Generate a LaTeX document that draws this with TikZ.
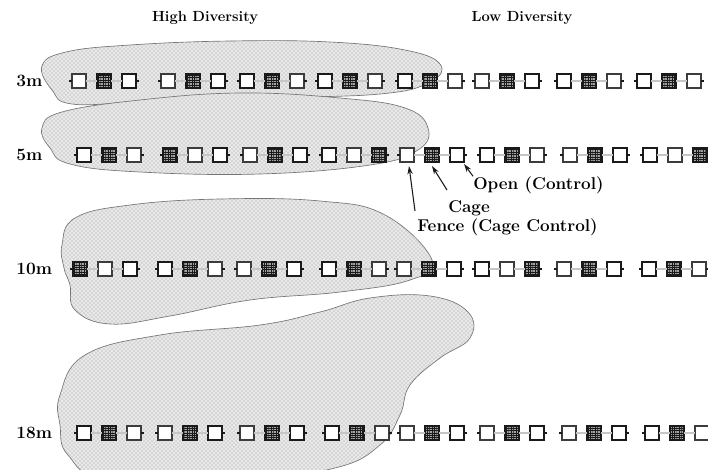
\documentclass[tikz,border=0pt]{standalone}
\usepackage{xcolor}
\usepackage{tikz}
\usetikzlibrary{
  arrows.meta,
  positioning,
  patterns,
  calc
}
\definecolor{divInk}{HTML}{1A1A1A}
\definecolor{divStipple}{HTML}{9A9A9A}
\pgfdeclarepatternformonly{cagegrid}{\pgfqpoint{-0.2pt}{-0.2pt}}{\pgfqpoint{2pt}{2pt}}{\pgfqpoint{1.8pt}{1.8pt}}{
  \pgfsetlinewidth{0.5pt}
  \pgfpathmoveto{\pgfqpoint{0pt}{0pt}}\pgfpathlineto{\pgfqpoint{1.8pt}{0pt}}
  \pgfpathmoveto{\pgfqpoint{0pt}{0pt}}\pgfpathlineto{\pgfqpoint{0pt}{1.8pt}}
  \pgfusepath{stroke}
}
\tikzset{
  divplot/.style={draw=divInk, minimum size=10.5pt, inner sep=0pt, outer sep=0pt},
  plotO/.style={divplot, fill=white, line width=0.9pt},
  plotC/.style={divplot, line width=0.8pt, preaction={fill=divInk!40}, pattern=cagegrid, pattern color=divInk},
  plotF/.style={divplot, fill=white, line width=2.2pt, draw=divInk!85},
  tether/.style={draw=divInk!80, double=divInk!25, double distance=1.2pt, line width=0.5pt},
  stub/.style={draw=divInk, line width=0.9pt},
  reefpatch/.style={
    draw=divInk!60, line width=0.5pt,
    preaction={fill=divStipple!22}, pattern=crosshatch dots, pattern color=divInk!45
  },
  depthlabel/.style={font=\fontsize{13}{15}\selectfont\bfseries, anchor=west, inner sep=0pt},
  colhead/.style={font=\fontsize{11}{13}\selectfont\bfseries},
  calltext/.style={font=\fontsize{12.8}{15}\selectfont\bfseries, inner sep=0pt},
  pointer/.style={-{Stealth[length=2.2mm, width=1.4mm]}, line width=0.8pt, divInk}
}
% one block of three plots: open, cage, fence in some order
\newcommand{\plottriplet}[7]{%
  \node[#5] (#1-#2-1) at (#3,#4) {};
  \node[#6] (#1-#2-2) at (#3+25,#4) {};
  \node[#7] (#1-#2-3) at (#3+50,#4) {};
  \draw[tether] (#1-#2-1) -- (#1-#2-2);
  \draw[tether] (#1-#2-2) -- (#1-#2-3);
  \draw[stub] (#1-#2-1.west) -- ++(-3,0);
  \draw[stub] (#1-#2-3.east) -- ++(3,0);
}

\begin{document}
\begin{tikzpicture}[x=0.75pt, y=-0.75pt]
  \useasboundingbox (0,0) rectangle (708,469);
  \clip (0,0) rectangle (708,469);

  % reef patches
  \draw[reefpatch] plot[smooth cycle, tension=0.7] coordinates {
    (42,66) (66,52) (130,45) (230,41) (330,42) (405,50) (440,64) (430,82)
    (380,94) (260,98) (140,102) (72,104) (52,90)};
  \draw[reefpatch] plot[smooth cycle, tension=0.7] coordinates {
    (42,128) (62,112) (140,100) (240,93) (340,98) (405,108) (428,128)
    (418,150) (370,165) (260,174) (140,172) (70,164) (50,148)};
  \draw[reefpatch] plot[smooth cycle, tension=0.7] coordinates {
    (62,245) (75,218) (130,205) (220,199) (320,201) (385,215) (432,260)
    (410,280) (340,292) (250,300) (170,316) (110,324) (75,310) (70,285) (64,268)};
  \draw[reefpatch] plot[smooth cycle, tension=0.7] coordinates {
    (60,395) (85,355) (160,335) (260,325) (320,312) (370,298) (430,296)
    (468,312) (470,338) (440,358) (410,385) (400,415) (380,445) (335,468)
    (240,480) (110,480) (68,455) (60,425)};

  \node[colhead] (hd-high) at (205,18) {High Diversity};
  \node[colhead] (hd-low) at (522,18) {Low Diversity};

  \node[depthlabel] (d3) at (16,81) {3m};
  \node[depthlabel] (d5) at (16,155) {5m};
  \node[depthlabel] (d10) at (16,269) {10m};
  \node[depthlabel] (d18) at (16,433) {18m};

  % 3m
  \plottriplet{m3}{1}{79}{81}{plotF}{plotC}{plotO}
  \plottriplet{m3}{2}{168}{81}{plotF}{plotC}{plotO}
  \plottriplet{m3}{3}{247}{81}{plotO}{plotC}{plotF}
  \plottriplet{m3}{4}{325}{81}{plotO}{plotC}{plotF}
  \plottriplet{m3}{5}{405}{81}{plotO}{plotC}{plotF}
  \plottriplet{m3}{6}{482}{81}{plotF}{plotC}{plotO}
  \plottriplet{m3}{7}{564}{81}{plotO}{plotC}{plotF}
  \plottriplet{m3}{8}{644}{81}{plotO}{plotC}{plotF}
  % 5m
  \plottriplet{m5}{1}{84}{155}{plotO}{plotC}{plotF}
  \plottriplet{m5}{2}{170}{155}{plotC}{plotF}{plotO}
  \plottriplet{m5}{3}{250}{155}{plotF}{plotC}{plotO}
  \plottriplet{m5}{4}{329}{155}{plotO}{plotF}{plotC}
  \plottriplet{m5}{5}{407}{155}{plotF}{plotC}{plotO}
  \plottriplet{m5}{6}{487}{155}{plotO}{plotC}{plotF}
  \plottriplet{m5}{7}{570}{155}{plotF}{plotC}{plotO}
  \plottriplet{m5}{8}{650}{155}{plotO}{plotF}{plotC}
  % 10m
  \plottriplet{m10}{1}{80}{269}{plotC}{plotF}{plotO}
  \plottriplet{m10}{2}{165}{269}{plotO}{plotC}{plotF}
  \plottriplet{m10}{3}{244}{269}{plotF}{plotC}{plotO}
  \plottriplet{m10}{4}{329}{269}{plotO}{plotC}{plotF}
  \plottriplet{m10}{5}{404}{269}{plotF}{plotC}{plotO}
  \plottriplet{m10}{6}{482}{269}{plotO}{plotF}{plotC}
  \plottriplet{m10}{7}{564}{269}{plotF}{plotC}{plotO}
  \plottriplet{m10}{8}{649}{269}{plotO}{plotC}{plotF}
  % 18m
  \plottriplet{m18}{1}{84}{433}{plotO}{plotC}{plotF}
  \plottriplet{m18}{2}{165}{433}{plotF}{plotC}{plotO}
  \plottriplet{m18}{3}{247}{433}{plotF}{plotC}{plotO}
  \plottriplet{m18}{4}{332}{433}{plotO}{plotC}{plotF}
  \plottriplet{m18}{5}{407}{433}{plotF}{plotC}{plotO}
  \plottriplet{m18}{6}{487}{433}{plotF}{plotC}{plotO}
  \plottriplet{m18}{7}{569}{433}{plotF}{plotC}{plotO}
  \plottriplet{m18}{8}{652}{433}{plotO}{plotC}{plotF}

  % key to the plot types
  \node[calltext, anchor=west] (lbl-open) at (473,185) {Open (Control)};
  \node[calltext, anchor=west] (lbl-cage) at (448,208) {Cage};
  \node[calltext, anchor=west] (lbl-fence) at (417,227) {Fence (Cage Control)};
  \coordinate (tail-cage) at (447,190);
  \coordinate (tail-fence) at (415,211);
  \draw[pointer] (lbl-open.north west) -- ($(m5-5-3.south east)+(0,2)$);
  \draw[pointer] (tail-cage) -- ($(m5-5-2.south)+(0,4)$);
  \draw[pointer] (tail-fence) -- ($(m5-5-1.south)+(2,4)$);
\end{tikzpicture}
\end{document}
